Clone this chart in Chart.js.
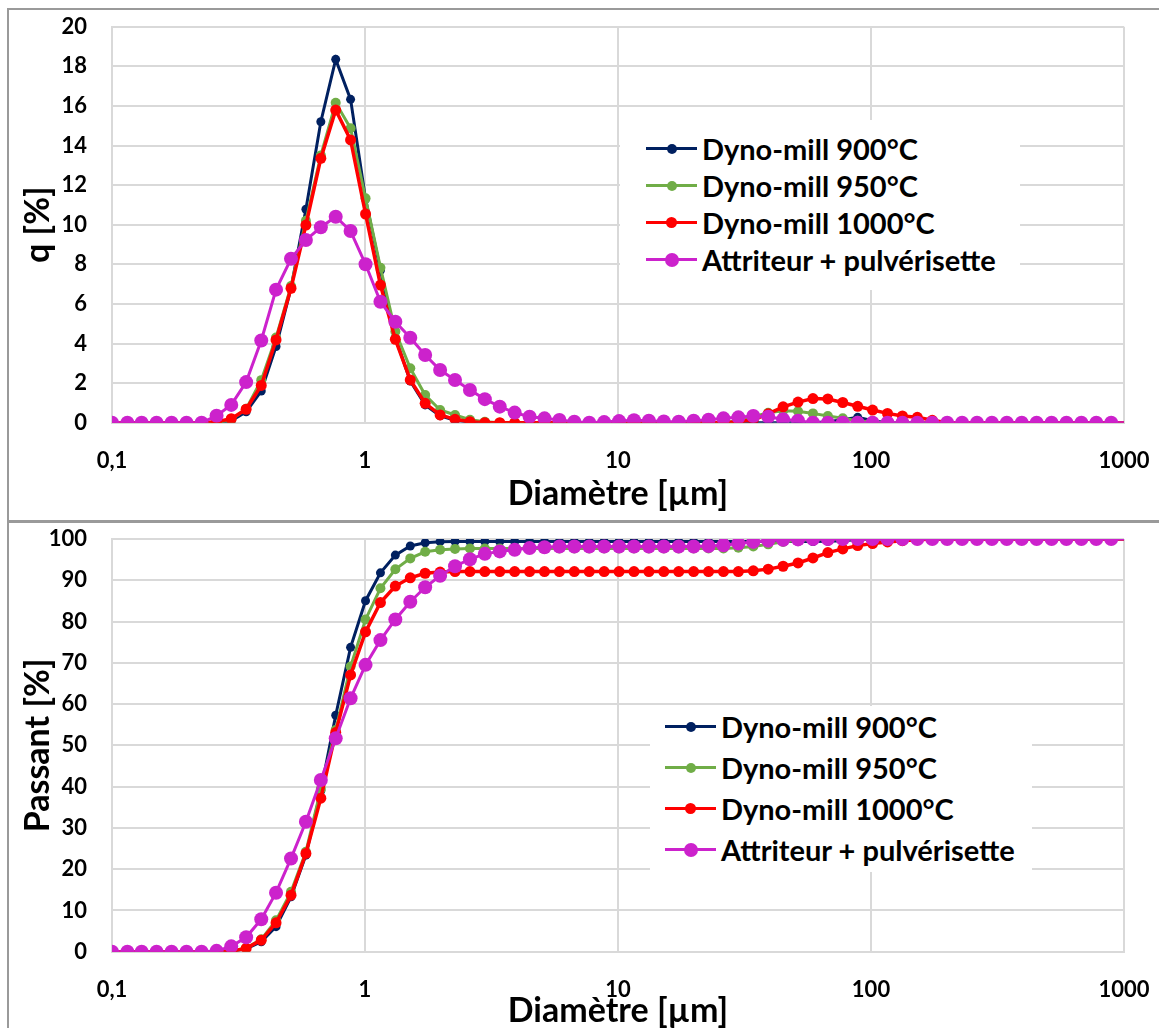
<!DOCTYPE html>
<html>
<head>
<meta charset="utf-8">
<script src="https://cdn.jsdelivr.net/npm/chart.js@4.4.0/dist/chart.umd.min.js"></script>
<style>
    html, body { margin: 0; padding: 0; background: #fff; overflow: hidden; }
    body { width: 1159px; height: 1028px; position: relative; font-family: Lato, sans-serif; }
    .frame { position: absolute; left: 7px; width: 1200px; border: 2px solid #9a9a9a; box-sizing: border-box; }
    #frameTop { top: 8px; height: 515px; }
    #frameBottom { top: 520px; height: 600px; }
    .box { position: absolute; left: 0; width: 1159px; }
    #boxTop { top: 0; height: 521px; }
    #boxBottom { top: 521px; height: 507px; }
    .legend { position: absolute; background: #fff; font-weight: bold; font-size: 29px; color: #000; box-sizing: border-box; }
    #legendTop { left: 620px; top: 120px; width: 400px; height: 170px; padding: 10px 0 0 26px; }
    #legendBottom { left: 650px; top: 706px; width: 382px; height: 166px; padding: 0 0 0 15px; }
    .row { display: flex; align-items: center; white-space: nowrap; }
    #legendTop .row { height: 37px; }
    #legendBottom .row { height: 41px; }
    .mark { position: relative; width: 51px; height: 100%; margin-right: 5px; flex: none; }
    .mark .line { position: absolute; left: 0; right: 0; top: 50%; height: 3px; margin-top: -1.5px; }
    .mark .dot { position: absolute; left: 50%; top: 50%; border-radius: 50%; }
</style>
</head>
<body>
<div class="frame" id="frameTop"></div>
<div class="frame" id="frameBottom"></div>
<div class="box" id="boxTop"><canvas id="chartQ" width="1159" height="521"></canvas></div>
<div class="box" id="boxBottom"><canvas id="chartPassant" width="1159" height="507"></canvas></div>
<div class="legend" id="legendTop"></div>
<div class="legend" id="legendBottom"></div>
<script>
// Classes de taille (µm) - le dernier point est hors axe (>1000)
const sizesUm = [0.1, 0.115, 0.131, 0.150, 0.172, 0.197, 0.226, 0.259, 0.296, 0.339,
    0.389, 0.445, 0.510, 0.584, 0.669, 0.766, 0.877, 1.005, 1.151, 1.318,
    1.510, 1.729, 1.981, 2.269, 2.599, 2.976, 3.409, 3.905, 4.472, 5.122,
    5.867, 6.720, 7.697, 8.816, 10.097, 11.565, 13.246, 15.172, 17.377, 19.904,
    22.797, 26.111, 29.907, 34.255, 39.234, 44.938, 51.471, 58.953, 67.523, 77.339,
    88.583, 101.46, 116.21, 133.10, 152.45, 174.62, 200.0, 229.08, 262.38, 300.52,
    344.21, 394.24, 451.56, 517.20, 592.39, 678.50, 777.14, 890.12, 1019.5];

const seriesNames = ['Dyno-mill 900°C', 'Dyno-mill 950°C', 'Dyno-mill 1000°C', 'Attriteur + pulvérisette'];
const seriesColors = ['#002060', '#70AD47', '#FF0000', '#CC22CC'];

// Distribution q [%]
const qDyno900 = [0, 0, 0, 0, 0, 0, 0,
    0, 0.1, 0.55, 1.6, 3.85, 6.8, 10.78, 15.2, 18.35, 16.33, 11.3, 7.7, 4.3, 2.1, 0.9, 0.35, 0.12, 0.03,
    0, 0, 0, 0, 0, 0, 0, 0, 0, 0, 0, 0, 0, 0, 0, 0, 0, 0, 0, 0, 0, 0, 0,
    0.05, 0.15, 0.27, 0.1,
    0, 0, 0, 0, 0, 0, 0, 0, 0, 0, 0, 0, 0, 0, 0, 0, 0];
const qDyno950 = [0, 0, 0, 0, 0, 0, 0,
    0, 0.15, 0.7, 2.15, 4.3, 6.9, 10.2, 13.5, 16.16, 14.87, 11.33, 7.83, 4.6, 2.75, 1.4, 0.64, 0.39, 0.15, 0.05,
    0, 0, 0, 0, 0, 0, 0, 0, 0, 0, 0, 0, 0, 0, 0, 0,
    0.1, 0.3, 0.5, 0.6, 0.58, 0.47, 0.34, 0.22, 0.1, 0.03,
    0, 0, 0, 0, 0, 0, 0, 0, 0, 0, 0, 0, 0, 0, 0, 0, 0];
const qDyno1000 = [0, 0, 0, 0, 0, 0, 0,
    0.05, 0.2, 0.68, 1.88, 4.18, 6.79, 9.98, 13.35, 15.79, 14.28, 10.54, 6.95, 4.21, 2.16, 0.98, 0.39, 0.17, 0.05,
    0, 0, 0, 0, 0, 0, 0, 0, 0, 0, 0, 0, 0, 0, 0, 0, 0,
    0.05, 0.15, 0.45, 0.8, 1.04, 1.22, 1.2, 1.02, 0.83, 0.64, 0.47, 0.34, 0.27, 0.12,
    0, 0, 0, 0, 0, 0, 0, 0, 0, 0, 0, 0, 0];
const qAttriteur = [0, 0, 0, 0, 0, 0, 0,
    0.35, 0.9, 2.05, 4.15, 6.72, 8.28, 9.23, 9.87, 10.4, 9.68, 8.0, 6.11, 5.1, 4.29,
    3.42, 2.66, 2.16, 1.65, 1.19, 0.81, 0.51, 0.3, 0.22, 0.14, 0.05, 0,
    0.03, 0.08, 0.12, 0.1, 0.06, 0.05, 0.1, 0.15, 0.22, 0.27, 0.34, 0.3, 0.17, 0.1,
    0, 0, 0, 0, 0, 0, 0, 0, 0, 0, 0, 0, 0, 0, 0, 0, 0, 0, 0, 0, 0, 0];

// Passant cumulé [%]
const pDyno900 = [0, 0, 0, 0, 0, 0, 0, 0,
    0.1, 0.7, 2.4, 6.06, 13.3, 23.4, 39.0, 57.3, 73.75, 85.05, 91.8, 96.1, 98.3, 99.1, 99.35,
    99.4, 99.4, 99.4, 99.4, 99.4, 99.4, 99.4, 99.4, 99.4, 99.4, 99.4, 99.4, 99.4,
    99.4, 99.4, 99.4, 99.4, 99.4, 99.4, 99.4, 99.4, 99.4, 99.4, 99.4, 99.4,
    99.45, 99.6, 99.85,
    100, 100, 100, 100, 100, 100, 100, 100, 100, 100, 100, 100, 100, 100, 100, 100, 100, 100];
const pDyno950 = [0, 0, 0, 0, 0, 0, 0, 0,
    0.2, 0.9, 3.0, 7.6, 14.5, 24.2, 39.4, 53.7, 69.1, 80.5, 88.05, 92.65, 95.3, 96.9, 97.4, 97.6,
    97.7, 97.7, 97.7, 97.7, 97.7, 97.7, 97.7, 97.7, 97.7, 97.7, 97.7, 97.7, 97.7, 97.7, 97.7, 97.7, 97.7, 97.7,
    97.9, 98.2, 98.7, 99.3, 99.7, 99.9,
    100, 100, 100, 100, 100, 100, 100, 100, 100, 100, 100, 100, 100, 100, 100, 100, 100, 100, 100, 100, 100];
const pDyno1000 = [0, 0, 0, 0, 0, 0, 0, 0,
    0.1, 0.8, 2.8, 7.0, 13.7, 23.8, 37.2, 53.1, 67.05, 77.5, 84.6, 88.6, 90.6, 91.7, 92.0,
    92.1, 92.1, 92.1, 92.1, 92.1, 92.1, 92.1, 92.1, 92.1, 92.1, 92.1, 92.1, 92.1, 92.1, 92.1, 92.1, 92.1, 92.1, 92.1, 92.1,
    92.3, 92.7, 93.4, 94.2, 95.4, 96.7, 97.6, 98.4, 98.9, 99.3, 99.6, 99.8,
    100, 100, 100, 100, 100, 100, 100, 100, 100, 100, 100, 100, 100, 100];
const pAttriteur = [0, 0, 0, 0, 0, 0, 0, 0.2,
    1.3, 3.5, 7.85, 14.3, 22.6, 31.5, 41.6, 51.7, 61.4, 69.5, 75.5, 80.5, 84.8, 88.3, 91.1, 93.4,
    95.1, 96.4, 97.0, 97.4, 97.8, 98.0,
    98.2, 98.2, 98.2, 98.2, 98.2, 98.2, 98.2, 98.2, 98.2, 98.2,
    98.3, 98.5, 98.9, 99.3, 99.6, 99.8, 99.9,
    100, 100, 100, 100, 100, 100, 100, 100, 100, 100, 100, 100, 100, 100, 100, 100, 100, 100, 100, 100, 100, 100];

const xTicks = [0.1, 1, 10, 100, 1000];
const xTickLabels = ['0,1', '1', '10', '100', '1000'];

// Style par série
const pointRadii = [4.5, 5, 5.5, 7];
const lineWidths = [3, 3, 3.5, 3];

function buildDatasets(seriesList) {
    return seriesList.map((values, s) => ({
        label: seriesNames[s],
        data: values.map((v, i) => ({ x: sizesUm[i], y: v })),
        borderColor: seriesColors[s],
        backgroundColor: seriesColors[s],
        borderWidth: lineWidths[s],
        pointRadius: ctx => (ctx.raw && ctx.raw.x > 1000 ? 0 : pointRadii[s]),
        pointBorderWidth: 0,
        pointHoverRadius: pointRadii[s],
        tension: 0,
        order: seriesList.length - s // la dernière série dessinée au-dessus
    }));
}

const tickFont = { family: 'Lato', size: 22, weight: 'bold' };
const titleFont = { family: 'Lato', size: 34, weight: 'bold', lineHeight: 1 };
const gridColor = '#d9d9d9';

function makeChart(canvasId, seriesList, yMax, yStep, yTitle, padTop, xAxisHeight, xTitlePad) {
    const ctx = document.getElementById(canvasId).getContext('2d');
    return new Chart(ctx, {
        type: 'line',
        data: { datasets: buildDatasets(seriesList) },
        options: {
            responsive: false,
            animation: false,
            layout: { padding: { top: padTop, right: 35, left: 0, bottom: 0 } },
            plugins: { legend: { display: false }, tooltip: { enabled: false } },
            scales: {
                x: {
                    type: 'logarithmic',
                    min: 0.1,
                    max: 1000,
                    afterBuildTicks: scale => { scale.ticks = xTicks.map(v => ({ value: v })); },
                    afterFit: scale => { scale.height = xAxisHeight; },
                    ticks: {
                        autoSkip: false,
                        maxRotation: 0,
                        padding: 0,
                        color: '#000',
                        font: tickFont,
                        callback: (value, index) => xTickLabels[index]
                    },
                    grid: { color: gridColor, lineWidth: 2, drawTicks: true, tickLength: 25, tickColor: 'rgba(0,0,0,0)' },
                    border: { color: gridColor, width: 2 },
                    title: { display: true, text: 'Diamètre [µm]', color: '#000', font: titleFont, padding: { top: 0, bottom: xTitlePad } }
                },
                y: {
                    min: 0,
                    max: yMax,
                    afterFit: scale => { scale.width = 112; },
                    ticks: { stepSize: yStep, padding: 0, color: '#000', font: tickFont },
                    grid: { color: gridColor, lineWidth: 2, drawTicks: true, tickLength: 25, tickColor: 'rgba(0,0,0,0)' },
                    border: { color: gridColor, width: 2 },
                    title: { display: true, text: yTitle, color: '#000', font: titleFont, padding: { top: 21, bottom: 0 } }
                }
            }
        }
    });
}

makeChart('chartQ', [qDyno900, qDyno950, qDyno1000, qAttriteur], 20, 2, 'q [%]', 26.7, 98.3, 10);
makeChart('chartPassant', [pDyno900, pDyno950, pDyno1000, pAttriteur], 100, 10, 'Passant [%]', 18, 76.3, 0);

// Légendes (HTML) à l'intérieur des graphiques
const legendDotSizes = [10, 10, 11, 14];
function buildLegend(id) {
    const box = document.getElementById(id);
    seriesNames.forEach((name, s) => {
        const row = document.createElement('div');
        row.className = 'row';
        const mark = document.createElement('span');
        mark.className = 'mark';
        const line = document.createElement('span');
        line.className = 'line';
        line.style.background = seriesColors[s];
        const dot = document.createElement('span');
        dot.className = 'dot';
        const d = legendDotSizes[s];
        dot.style.width = d + 'px';
        dot.style.height = d + 'px';
        dot.style.marginLeft = (-d / 2) + 'px';
        dot.style.marginTop = (-d / 2) + 'px';
        dot.style.background = seriesColors[s];
        mark.appendChild(line);
        mark.appendChild(dot);
        const label = document.createElement('span');
        label.textContent = name;
        row.appendChild(mark);
        row.appendChild(label);
        box.appendChild(row);
    });
}
buildLegend('legendTop');
buildLegend('legendBottom');
</script>
</body>
</html>
